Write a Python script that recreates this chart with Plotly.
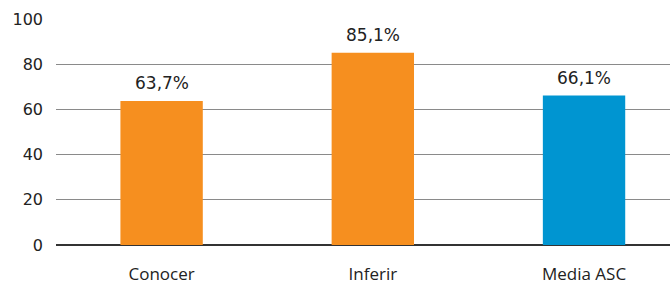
import plotly.graph_objects as go

categories = ["Conocer", "Inferir", "Media ASC"]
values = [63.7, 85.1, 66.1]
labels = ["63,7%", "85,1%", "66,1%"]
colors = ["#F68F1F", "#F68F1F", "#0095D1"]
yticks = [0, 20, 40, 60, 80, 100]

xs = list(range(len(categories)))
fig = go.Figure(go.Bar(
    x=xs, y=values,
    marker=dict(color=colors, line=dict(width=0)), width=0.39,
))
for x, v, t in zip(xs, values, labels):
    fig.add_annotation(x=x, y=v, text=t, showarrow=False, yanchor="bottom", yshift=6,
                       font=dict(size=17, color="#222222", family="DejaVu Sans"))
fig.update_layout(
    width=670, height=284, margin=dict(l=56, r=0, t=19, b=39),
    paper_bgcolor="white", plot_bgcolor="white",
    font=dict(family="Open Sans", color="#222222"),
    showlegend=False,
    xaxis=dict(tickvals=xs, ticktext=categories,
               range=[-0.5, 2.407], showgrid=False, tickfont=dict(size=17),
               ticklabelstandoff=17, showline=False, zeroline=False),
    yaxis=dict(range=[0, 100], tickvals=yticks, showgrid=True, gridcolor="#8a8a8a",
               gridwidth=1, zeroline=True, zerolinecolor="#333333", zerolinewidth=1.5,
               tickfont=dict(size=16, family="DejaVu Sans"), ticklabelstandoff=12,
               showline=False),
)
fig.write_html("out.html", config={"displayModeBar": False},
               post_script="document.body.style.margin='0';")
